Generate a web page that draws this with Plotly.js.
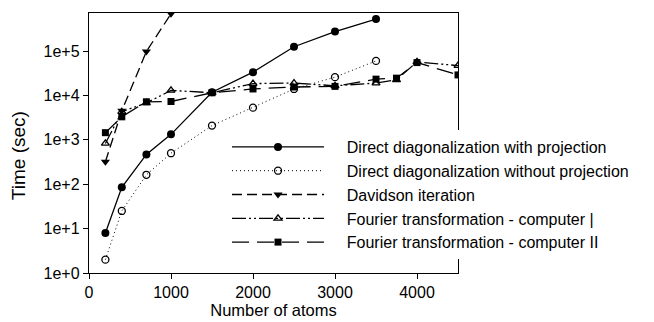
<!DOCTYPE html>
<html>
<head>
<meta charset="utf-8">
<script src="https://cdn.plot.ly/plotly-3.0.1.min.js"></script>
<style>
  html, body { margin: 0; padding: 0; background: #fff; }
  #chart { width: 654px; height: 322px; }
</style>
</head>
<body>
<div id="chart"></div>
<script>
// Computation time versus system size for several eigen-solvers
const atomsDirect = [200, 400, 700, 1000, 1500, 2000, 2500, 3000, 3500];
const timeDirectProj = [8, 85, 470, 1330, 11800, 33500, 125000, 275000, 525000];
const timeDirectNoProj = [2, 25, 163, 500, 2090, 5300, 14000, 25800, 60000];

const atomsDavidson = [200, 400, 700, 1000];
const timeDavidson = [320, 4500, 98000, 690000];

const atomsFourier = [200, 400, 700, 1000, 1500, 2000, 2500, 3000, 3500, 3750, 4000, 4500];
const timeFourierI = [830, 4300, 6800, 13000, 11500, 18500, 19000, 16500, 19000, 22500, 57000, 47000];
const timeFourierII = [1450, 3300, 7200, 7300, 11500, 14000, 15500, 16000, 23300, 24500, 55000, 29000];

const seriesNames = [
  "Direct diagonalization with projection",
  "Direct diagonalization without projection",
  "Davidson iteration",
  "Fourier transformation - computer |",
  "Fourier transformation - computer II"
];

const yTickVals = [1, 10, 100, 1000, 10000, 100000];
const yTickText = ["1e+0", "1e+1", "1e+2", "1e+3", "1e+4", "1e+5"];
const xTickVals = [0, 1000, 2000, 3000, 4000];

const xTitle = "Number of atoms";
const yTitle = "Time (sec)";

const black = "#000";
const lw = 1.3;
// small gap between each legend sample and its label
const gap = "\u00a0\u00a0\u00a0\u00a0";

const traces = [
  {
    x: atomsDirect, y: timeDirectProj, name: gap + seriesNames[0],
    mode: "lines+markers",
    line: { color: black, width: lw, dash: "solid" },
    marker: { symbol: "circle", size: 8, color: black }
  },
  {
    x: atomsDirect, y: timeDirectNoProj, name: gap + seriesNames[1],
    mode: "lines+markers",
    line: { color: black, width: 1, dash: "1px,3px" },
    marker: { symbol: "circle-open", size: 7, color: black, line: { width: 1.3, color: black } }
  },
  {
    x: atomsDavidson, y: timeDavidson, name: gap + seriesNames[2],
    mode: "lines+markers",
    line: { color: black, width: lw, dash: "10px,5px" },
    marker: { symbol: "triangle-down", size: 8, color: black }
  },
  {
    x: atomsFourier, y: timeFourierI, name: gap + seriesNames[3],
    mode: "lines+markers",
    line: { color: black, width: lw, dash: "14px,3px,2px,3px,2px,3px" },
    marker: { symbol: "triangle-up-open", size: 7, color: black, line: { width: 1.3, color: black } }
  },
  {
    x: atomsFourier, y: timeFourierII, name: gap + seriesNames[4],
    mode: "lines+markers",
    line: { color: black, width: lw, dash: "17px,8px" },
    marker: { symbol: "square", size: 7, color: black }
  }
];

const fontFamily = "Arial, 'Liberation Sans', sans-serif";

const layout = {
  width: 654,
  height: 322,
  paper_bgcolor: "#fff",
  plot_bgcolor: "#fff",
  margin: { l: 89, r: 196, t: 13, b: 49, pad: 0 },
  font: { family: fontFamily, size: 16, color: black },
  showlegend: true,
  legend: {
    x: 0.374, y: 0.55, xanchor: "left", yanchor: "top",
    bgcolor: "#fff",
    borderwidth: 0,
    itemwidth: 92,
    tracegroupgap: 0,
    font: { family: fontFamily, size: 16, color: black }
  },
  xaxis: {
    range: [0, 4500],
    tickvals: xTickVals,
    ticks: "outside", ticklen: 5, tickwidth: 1, tickcolor: black,
    showline: true, linecolor: black, linewidth: 1.2, mirror: true,
    showgrid: false, zeroline: false,
    tickfont: { size: 16 },
    title: { text: xTitle, font: { size: 16.5 }, standoff: 4 }
  },
  yaxis: {
    type: "log",
    range: [0, Math.log10(720000)],
    tickvals: yTickVals,
    ticktext: yTickText,
    ticks: "outside", ticklen: 5, tickwidth: 1, tickcolor: black,
    showline: true, linecolor: black, linewidth: 1.2, mirror: true,
    showgrid: false, zeroline: false,
    tickfont: { size: 16 }
  },
  annotations: [
    {
      text: yTitle, textangle: -90,
      xref: "paper", yref: "paper",
      x: -0.192, y: 0.45, xanchor: "center", yanchor: "middle",
      showarrow: false,
      font: { family: fontFamily, size: 19, color: black }
    }
  ]
};

Plotly.newPlot("chart", traces, layout, { displayModeBar: false, staticPlot: true });
</script>
</body>
</html>
